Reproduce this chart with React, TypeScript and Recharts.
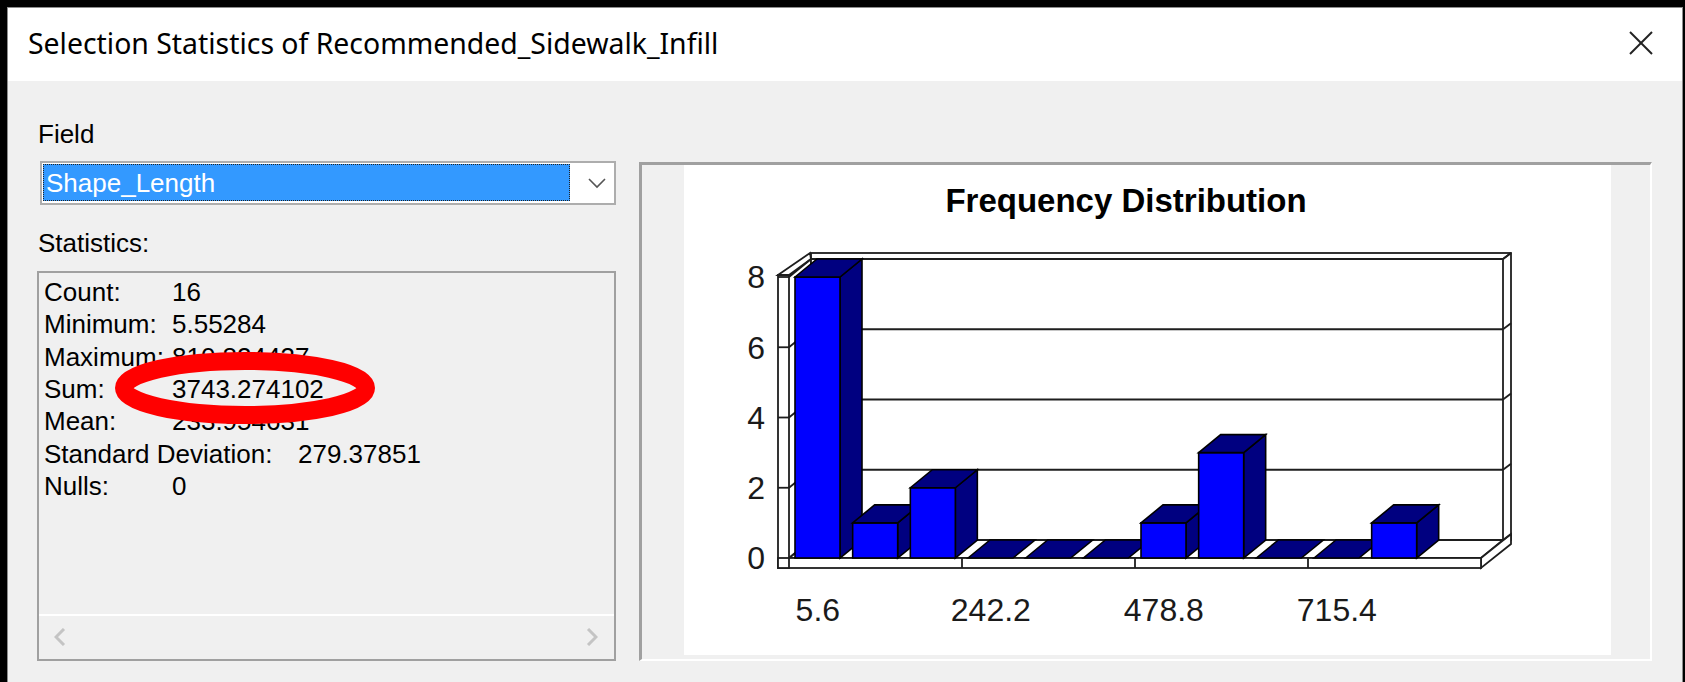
import { BarChart, Bar, XAxis, YAxis, CartesianGrid } from 'recharts';

// histogram of Shape_Length (16 features, 12 bins, last one empty)
const binIds = [0, 1, 2, 3, 4, 5, 6, 7, 8, 9, 10, 11];
const binCounts = [8, 1, 2, 0, 0, 0, 1, 3, 0, 0, 1, null];
const labeledBins = [0, 3, 6, 9];
const binLabels = ['5.6', '242.2', '478.8', '715.4'];
const countTicks = [0, 2, 4, 6, 8];

const statLabels = ['Count:', 'Minimum:', 'Maximum:', 'Sum:', 'Mean:', 'Standard Deviation:', 'Nulls:'];
const statValues = ['16', '5.55284', '810.824437', '3743.274102', '233.954631', '279.37851', '0'];

const data = binIds.map((bin, i) => ({ bin, count: binCounts[i] }));

const SANS = '"Liberation Sans", Arial, sans-serif';
const TITLE_FONT = '"Segoe UI", "Noto Sans", sans-serif';
const LINE = '#1e1e1e';
const DX = 22;
const DY = -18;
const CHART_W = 927;
const CHART_H = 495;
const MARGIN = { top: 115, right: 130, left: 45, bottom: 39 };
const Y_AXIS_W = 60;
const X_AXIS_H = 60;
const PLOT_W = CHART_W - MARGIN.left - MARGIN.right - Y_AXIS_W;
const X_TICK_GAP = 40;

function Walls(p: any) {
  const y = p.y1;
  const L = p.x;
  const T = p.y;
  const R = p.x + p.width;
  const B = p.y + p.height;
  const sw = 1.8;
  return (
    <g key={p.key}>
      {p.index === 0 && (
        <g>
          <rect x={L + DX} y={T + DY - 6} width={R - L + 8} height={B - T + 6} fill="#fff" stroke={LINE} strokeWidth={sw} />
          <rect x={L + DX} y={T + DY} width={R - L} height={B - T} fill="#fff" stroke={LINE} strokeWidth={sw} />
          <path d={`M${R + DX},${T + DY} L${R + DX + 8},${T + DY - 6}`} stroke={LINE} strokeWidth={sw} />
          <path
            d={`M${L},${B} L${R},${B} L${R + DX},${B + DY} L${L + DX},${B + DY} Z`}
            fill="#fff"
            stroke={LINE}
            strokeWidth={sw}
          />
          <path
            d={`M${R},${B} L${R + DX + 8},${B + DY - 6} L${R + DX + 8},${B + DY + 4} L${R},${B + 10} Z`}
            fill="#fff"
            stroke={LINE}
            strokeWidth={sw}
          />
          <rect x={L - 11} y={B} width={R - L + 11} height={10} fill="#fff" stroke={LINE} strokeWidth={sw} />
          <rect x={L - 11} y={T - 2} width={11} height={B - T + 12} fill="#fff" stroke={LINE} strokeWidth={sw} />
          <path
            d={`M${L - 11},${T - 2} L${L + DX - 1},${T + DY - 6} L${L + DX},${T + DY} L${L},${T - 2} Z`}
            fill="#fff"
            stroke={LINE}
            strokeWidth={sw}
          />
        </g>
      )}
      <line x1={L + DX} y1={y + DY} x2={R + DX} y2={y + DY} stroke={LINE} strokeWidth={sw} />
      <line x1={L} y1={y} x2={L + DX} y2={y + DY} stroke={LINE} strokeWidth={sw} />
      <line x1={L - 11} y1={y} x2={L} y2={y} stroke={LINE} strokeWidth={sw} />
      <line x1={R + DX} y1={y + DY} x2={R + DX + 8} y2={y + DY - 6} stroke={LINE} strokeWidth={sw} />
    </g>
  );
}

function Bar3D(p: any) {
  const { x, y, width, height, payload } = p;
  if (payload == null || payload.count == null) return null;
  const top = `M${x},${y} L${x + DX},${y + DY} L${x + width + DX},${y + DY} L${x + width},${y} Z`;
  const side = `M${x + width},${y} L${x + width + DX},${y + DY} L${x + width + DX},${y + height + DY} L${x + width},${y + height} Z`;
  return (
    <g>
      {height > 0 && <path d={side} fill="#000080" stroke="#000" strokeWidth={1.6} />}
      {height > 0 && <rect x={x} y={y} width={width} height={height} fill="#0000ff" stroke="#000" strokeWidth={1.6} />}
      <path d={top} fill="#000080" stroke="#000" strokeWidth={1.6} />
    </g>
  );
}

function BinTick(p: any) {
  const { x, y, payload } = p;
  const k = labeledBins.indexOf(payload.value);
  const band = PLOT_W / binIds.length;
  const floorY = y - X_TICK_GAP;
  return (
    <g>
      {k > 0 && (
        <line x1={x - band / 2} y1={floorY} x2={x - band / 2} y2={floorY + 10} stroke={LINE} strokeWidth={1.8} />
      )}
      <text x={x} y={y} dy="0.71em" textAnchor="middle" fontSize={32} fill="#1a1a1a" fontFamily={SANS}>
        {k >= 0 ? binLabels[k] : ''}
      </text>
    </g>
  );
}

function Chevron({ left, top, dir }: { left: number; top: number; dir: 'l' | 'r' }) {
  const pts = dir === 'l' ? '10,1 2,9 10,17' : '2,1 10,9 2,17';
  return (
    <svg style={{ position: 'absolute', left, top }} width={12} height={18}>
      <polyline points={pts} fill="none" stroke="#c4c4c4" strokeWidth={3} />
    </svg>
  );
}

export default function App() {
  const abs = (left: number, top: number, extra: any = {}) => ({ position: 'absolute' as const, left, top, ...extra });
  const txt = { fontSize: 26, lineHeight: '26px', color: '#000', whiteSpace: 'nowrap' as const, fontFamily: SANS };

  return (
    <div style={{ position: 'absolute', left: 0, top: 0, width: 1685, height: 682, background: '#000', overflow: 'hidden' }}>
      {/* dialog frame */}
      <div style={abs(7, 7, { width: 1676, height: 700, background: '#f0f0f0', border: '1px solid #8c8c8c', boxSizing: 'border-box' })} />
      <div style={abs(8, 8, { width: 1674, height: 73, background: '#fff' })} />
      <div style={abs(28, 29, { fontSize: 28.4, lineHeight: '29px', fontFamily: TITLE_FONT, color: '#000', whiteSpace: 'nowrap' })}>
        Selection Statistics of Recommended_Sidewalk_Infill
      </div>
      <svg style={abs(1629, 31)} width={24} height={24}>
        <line x1={1} y1={1} x2={23} y2={23} stroke="#222" strokeWidth={2} />
        <line x1={23} y1={1} x2={1} y2={23} stroke="#222" strokeWidth={2} />
      </svg>

      {/* left panel */}
      <div style={abs(38, 121, txt)}>Field</div>
      <div style={abs(40, 161, { width: 576, height: 44, background: '#fff', border: '2px solid #adadad', boxSizing: 'border-box' })} />
      <div style={abs(43, 164, { width: 527, height: 37, background: '#3399ff', outline: '1px dotted #222', outlineOffset: -1 })} />
      <div style={abs(46, 170, { ...txt, color: '#fff' })}>Shape_Length</div>
      <svg style={abs(588, 178)} width={18} height={11}>
        <polyline points="1,1 9,9 17,1" fill="none" stroke="#555" strokeWidth={1.6} />
      </svg>

      <div style={abs(38, 230, txt)}>Statistics:</div>
      <div style={abs(37, 271, { width: 579, height: 390, border: '2px solid #a0a0a0', boxSizing: 'border-box' })} />
      {statLabels.map((label, i) => (
        <div key={label}>
          <div style={abs(44, 279 + i * 32.3, txt)}>{label}</div>
          <div style={abs(label.startsWith('Standard') ? 298 : 172, 279 + i * 32.3, txt)}>{statValues[i]}</div>
        </div>
      ))}
      <div style={abs(39, 614, { width: 575, height: 2, background: '#fff' })} />
      <Chevron left={54} top={628} dir="l" />
      <Chevron left={586} top={628} dir="r" />

      <svg style={abs(0, 0)} width={1685} height={682}>
        <ellipse cx={245} cy={388} rx={121} ry={27} fill="none" stroke="#ff0000" strokeWidth={18} />
      </svg>

      {/* chart panel */}
      <div
        style={abs(639, 162, {
          width: 1013,
          height: 499,
          background: '#f0f0f0',
          borderTop: '3px solid #a0a0a0',
          borderLeft: '3px solid #a0a0a0',
          borderBottom: '2px solid #fff',
          borderRight: '2px solid #fff',
          boxSizing: 'border-box',
        })}
      />
      <div style={abs(684, 165, { width: 927, height: 490, background: '#fff' })} />
      <div style={abs(876, 184, { width: 500, textAlign: 'center', fontSize: 33, lineHeight: '33px', fontWeight: 700, fontFamily: SANS, color: '#000' })}>
        Frequency Distribution
      </div>
      <div style={abs(684, 162)}>
        <BarChart width={CHART_W} height={CHART_H} data={data} margin={MARGIN} barSize={45}>
          <CartesianGrid vertical={false} horizontal={Walls} />
          <XAxis
            dataKey="bin"
            type="category"
            ticks={labeledBins}
            interval={0}
            height={X_AXIS_H}
            axisLine={false}
            tickLine={false}
            tickSize={0}
            tickMargin={X_TICK_GAP}
            tick={BinTick}
          />
          <YAxis
            domain={[0, 8]}
            ticks={countTicks}
            width={Y_AXIS_W}
            axisLine={false}
            tickLine={false}
            tickSize={0}
            tickMargin={24}
            tick={{ fontSize: 32, fill: '#1a1a1a', fontFamily: SANS }}
          />
          <Bar dataKey="count" shape={Bar3D} isAnimationActive={false} />
        </BarChart>
      </div>
    </div>
  );
}
